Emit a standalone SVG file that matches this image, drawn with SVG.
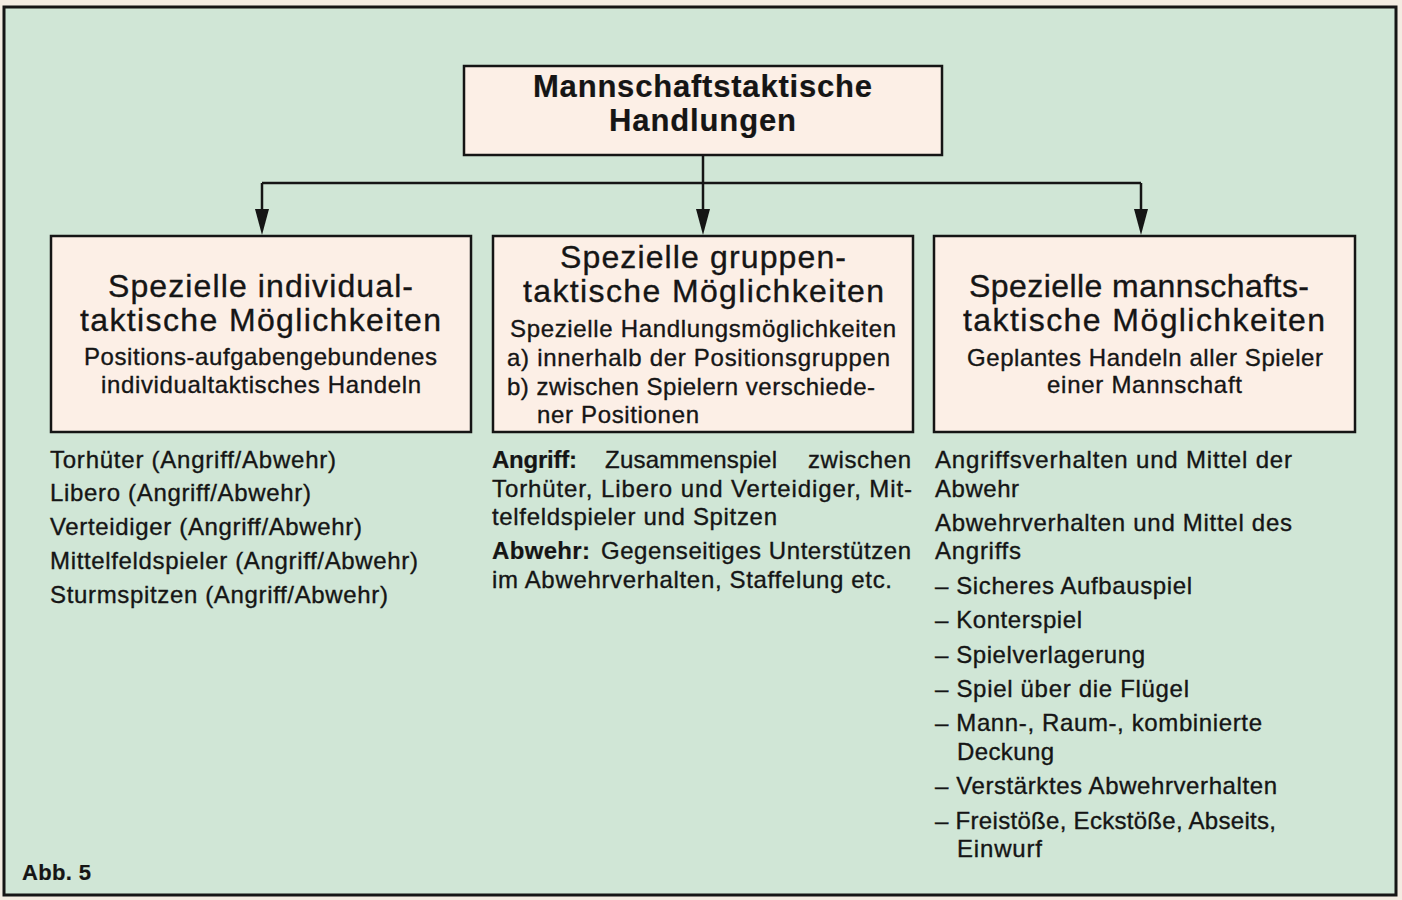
<svg xmlns="http://www.w3.org/2000/svg" width="1402" height="900" viewBox="0 0 1402 900">
<defs>
<style>
.t{font-family:"Liberation Sans",Arial,sans-serif;fill:#151515;stroke:#151515;stroke-width:0.35}
.h{font-size:32px}
.b{font-size:24px}
.bold{font-weight:bold;stroke-width:0.2}
.box{fill:#fcefe6;stroke:#151515;stroke-width:2.5}
.ln{fill:none;stroke:#151515;stroke-width:2.5}
</style>
</defs>
<rect x="0" y="0" width="1402" height="900" fill="#f3ece2"/>
<rect x="4" y="7" width="1392" height="888" fill="#d0e6d6" stroke="#151515" stroke-width="3"/>

<g id="connectors">
<line class="ln" x1="703" y1="155" x2="703" y2="183"/>
<line class="ln" x1="262" y1="183" x2="1141" y2="183"/>
<line class="ln" x1="262" y1="183" x2="262" y2="210"/>
<line class="ln" x1="703" y1="183" x2="703" y2="210"/>
<line class="ln" x1="1141" y1="183" x2="1141" y2="210"/>
<path d="M255,209 L269,209 L262,235 Z" fill="#151515"/>
<path d="M696,209 L710,209 L703,235 Z" fill="#151515"/>
<path d="M1134,209 L1148,209 L1141,235 Z" fill="#151515"/>
</g>

<g id="top">
<rect class="box" x="464" y="66" width="478" height="89"/>
<text class="t bold" font-size="31" x="533" y="97" textLength="339" lengthAdjust="spacing">Mannschaftstaktische</text>
<text class="t bold" font-size="31" x="609" y="131" textLength="187" lengthAdjust="spacing">Handlungen</text>
</g>

<g id="individual">
<rect class="box" x="51" y="236" width="420" height="196"/>
<text class="t h" x="108" y="297" textLength="305" lengthAdjust="spacing">Spezielle individual-</text>
<text class="t h" x="80" y="331" textLength="361" lengthAdjust="spacing">taktische Möglichkeiten</text>
<text class="t b" x="84" y="365" textLength="353" lengthAdjust="spacing">Positions-aufgabengebundenes</text>
<text class="t b" x="101" y="393" textLength="320" lengthAdjust="spacing">individualtaktisches Handeln</text>
</g>

<g id="gruppen">
<rect class="box" x="493" y="236" width="420" height="196"/>
<text class="t h" x="560" y="268" textLength="286" lengthAdjust="spacing">Spezielle gruppen-</text>
<text class="t h" x="523" y="302" textLength="361" lengthAdjust="spacing">taktische Möglichkeiten</text>
<text class="t b" x="510" y="337" textLength="386" lengthAdjust="spacing">Spezielle Handlungsmöglichkeiten</text>
<text class="t b" x="507" y="366" textLength="383" lengthAdjust="spacing">a) innerhalb der Positionsgruppen</text>
<text class="t b" x="507" y="395" textLength="368" lengthAdjust="spacing">b) zwischen Spielern verschiede-</text>
<text class="t b" x="537" y="423" textLength="162" lengthAdjust="spacing">ner Positionen</text>
</g>

<g id="mannschaft">
<rect class="box" x="934" y="236" width="421" height="196"/>
<text class="t h" x="969" y="297" textLength="340" lengthAdjust="spacing">Spezielle mannschafts-</text>
<text class="t h" x="963" y="331" textLength="362" lengthAdjust="spacing">taktische Möglichkeiten</text>
<text class="t b" x="967" y="366" textLength="356" lengthAdjust="spacing">Geplantes Handeln aller Spieler</text>
<text class="t b" x="1047" y="393" textLength="195" lengthAdjust="spacing">einer Mannschaft</text>
</g>

<g id="list-individual">
<text class="t b" x="50" y="468" textLength="286" lengthAdjust="spacing">Torhüter (Angriff/Abwehr)</text>
<text class="t b" x="50" y="501" textLength="261" lengthAdjust="spacing">Libero (Angriff/Abwehr)</text>
<text class="t b" x="50" y="535" textLength="312" lengthAdjust="spacing">Verteidiger (Angriff/Abwehr)</text>
<text class="t b" x="50" y="569" textLength="368" lengthAdjust="spacing">Mittelfeldspieler (Angriff/Abwehr)</text>
<text class="t b" x="50" y="603" textLength="338" lengthAdjust="spacing">Sturmspitzen (Angriff/Abwehr)</text>
</g>

<g id="list-gruppen">
<text class="t b bold" x="492" y="468" textLength="85" lengthAdjust="spacing">Angriff:</text>
<text class="t b" x="605" y="468" textLength="172" lengthAdjust="spacing">Zusammenspiel</text>
<text class="t b" x="808" y="468" textLength="103" lengthAdjust="spacing">zwischen</text>
<text class="t b" x="492" y="497" textLength="420" lengthAdjust="spacing">Torhüter, Libero und Verteidiger, Mit-</text>
<text class="t b" x="492" y="525" textLength="285" lengthAdjust="spacing">telfeldspieler und Spitzen</text>
<text class="t b bold" x="492" y="559" textLength="98" lengthAdjust="spacing">Abwehr:</text>
<text class="t b" x="601" y="559" textLength="310" lengthAdjust="spacing">Gegenseitiges Unterstützen</text>
<text class="t b" x="492" y="588" textLength="400" lengthAdjust="spacing">im Abwehrverhalten, Staffelung etc.</text>
</g>

<g id="list-mannschaft">
<text class="t b" x="935" y="468" textLength="357" lengthAdjust="spacing">Angriffsverhalten und Mittel der</text>
<text class="t b" x="935" y="497" textLength="84" lengthAdjust="spacing">Abwehr</text>
<text class="t b" x="935" y="531" textLength="357" lengthAdjust="spacing">Abwehrverhalten und Mittel des</text>
<text class="t b" x="935" y="559" textLength="86" lengthAdjust="spacing">Angriffs</text>
<text class="t b" x="935" y="594" textLength="257" lengthAdjust="spacing">– Sicheres Aufbauspiel</text>
<text class="t b" x="935" y="628" textLength="147" lengthAdjust="spacing">– Konterspiel</text>
<text class="t b" x="935" y="663" textLength="210" lengthAdjust="spacing">– Spielverlagerung</text>
<text class="t b" x="935" y="697" textLength="254" lengthAdjust="spacing">– Spiel über die Flügel</text>
<text class="t b" x="935" y="731" textLength="327" lengthAdjust="spacing">– Mann-, Raum-, kombinierte</text>
<text class="t b" x="957" y="760" textLength="97" lengthAdjust="spacing">Deckung</text>
<text class="t b" x="935" y="794" textLength="342" lengthAdjust="spacing">– Verstärktes Abwehrverhalten</text>
<text class="t b" x="935" y="829" textLength="341" lengthAdjust="spacing">– Freistöße, Eckstöße, Abseits,</text>
<text class="t b" x="957" y="857" textLength="85" lengthAdjust="spacing">Einwurf</text>
</g>

<g id="caption">
<text class="t bold" font-size="22" x="22" y="880" textLength="69" lengthAdjust="spacing">Abb. 5</text>
</g>
</svg>
